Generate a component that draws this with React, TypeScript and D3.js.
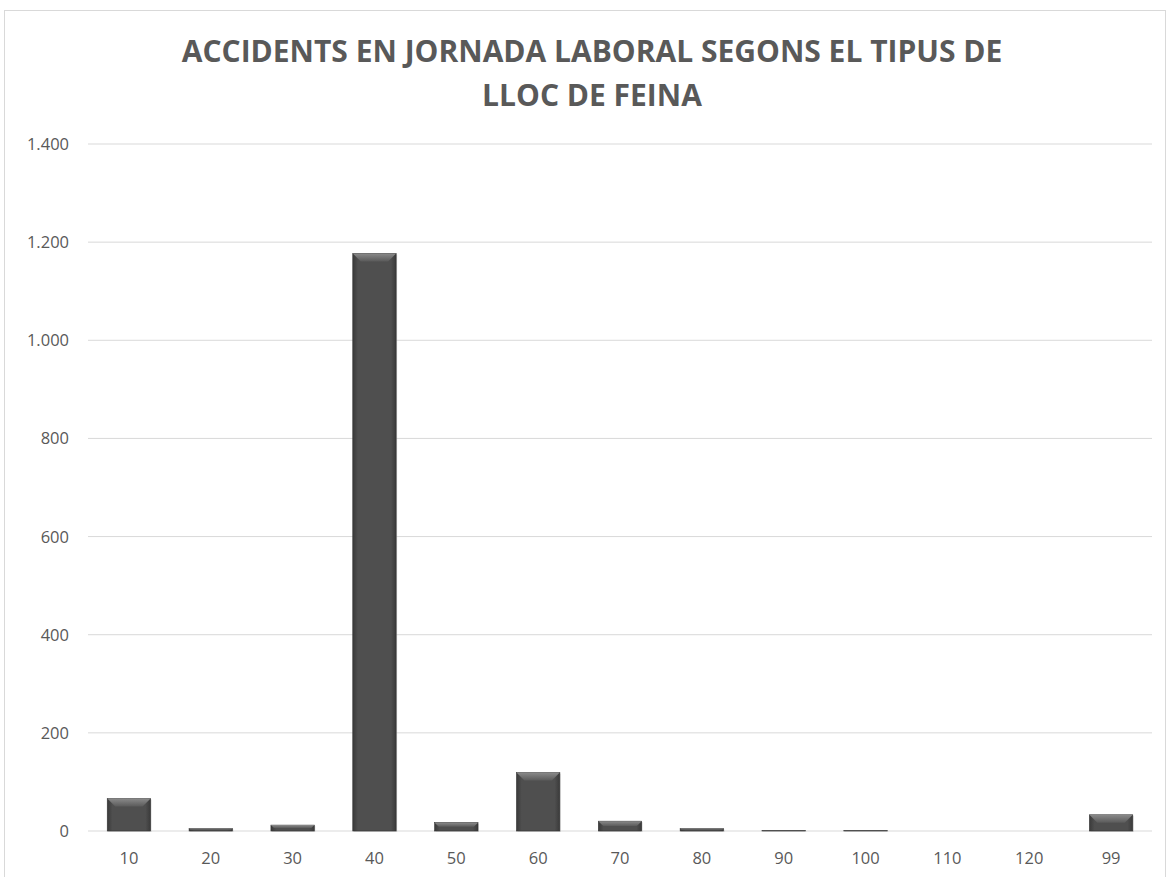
import React from "react";
import * as d3 from "d3";

const categories = ["10", "20", "30", "40", "50", "60", "70", "80", "90", "100", "110", "120", "99"];
const values = [66, 5, 12, 1177, 17, 119, 20, 5, 1, 1, 0, 0, 33];
const yTicks = [0, 200, 400, 600, 800, 1000, 1200, 1400];
const titleLines = ["ACCIDENTS EN JORNADA LABORAL SEGONS EL TIPUS DE", "LLOC DE FEINA"];

const W = 1170, H = 877;
const margin = { left: 88, right: 18, top: 144, bottom: 46 };

export default function App() {
  const x = d3.scaleBand().domain(categories).range([margin.left, W - margin.right]).paddingInner(0.47).paddingOuter(0.235);
  const y = d3.scaleLinear().domain([0, 1400]).range([H - margin.bottom, margin.top]);
  const fmt = (v: number) => d3.format(",")(v).replace(/,/g, ".");
  const font = "'Open Sans', 'Liberation Sans', sans-serif";
  const bw = x.bandwidth();
  return (
    <svg width={W} height={H} style={{ position: "absolute", left: 0, top: 0, background: "#fff" }}>
      <defs>
        <linearGradient id="side" x1="0" x2="1" y1="0" y2="0">
          <stop offset="0" stopColor="#3a3a3a" />
          <stop offset="0.12" stopColor="#4f4f4f" />
          <stop offset="0.88" stopColor="#4f4f4f" />
          <stop offset="1" stopColor="#3a3a3a" />
        </linearGradient>
        <linearGradient id="topbev" x1="0" x2="0" y1="0" y2="1">
          <stop offset="0" stopColor="#8a8a8a" />
          <stop offset="1" stopColor="#5a5a5a" />
        </linearGradient>
      </defs>
      <rect x={4.5} y={10.5} width={W - 9} height={H} fill="#fff" stroke="#d9d9d9" />
      {titleLines.map((t, i) => (
        <text key={i} x={592} y={62 + i * 44} textAnchor="middle"
          fontFamily={font} fontWeight="bold" fontSize={30} fill="#595959">{t}</text>
      ))}
      {yTicks.map((t) => (
        <g key={t}>
          <line x1={margin.left} x2={W - margin.right} y1={y(t)} y2={y(t)} stroke="#d9d9d9" strokeWidth={1} />
          <text x={69} y={y(t) + 6} textAnchor="end" fontFamily={font} fontSize={16.5} fill="#595959">{fmt(t)}</text>
        </g>
      ))}
      {categories.map((c, i) => {
        const x0 = x(c)!;
        const y0 = y(values[i]);
        const h = y(0) - y0;
        const bev = Math.min(8, h / 2);
        return (
          <g key={c}>
            {h > 0 && (
              <>
                <rect x={x0 + 1} y={y0 + 1} width={bw} height={h} fill="#bbb" opacity={0.5} />
                <rect x={x0} y={y0} width={bw} height={h} fill="url(#side)" stroke="#333" strokeWidth={0.6} />
                <polygon points={`${x0},${y0} ${x0 + bw},${y0} ${x0 + bw - bev},${y0 + bev} ${x0 + bev},${y0 + bev}`} fill="url(#topbev)" />
              </>
            )}
            <text x={x0 + bw / 2} y={y(0) + 33} textAnchor="middle" fontFamily={font} fontSize={16.5} fill="#595959">{c}</text>
          </g>
        );
      })}
    </svg>
  );
}
